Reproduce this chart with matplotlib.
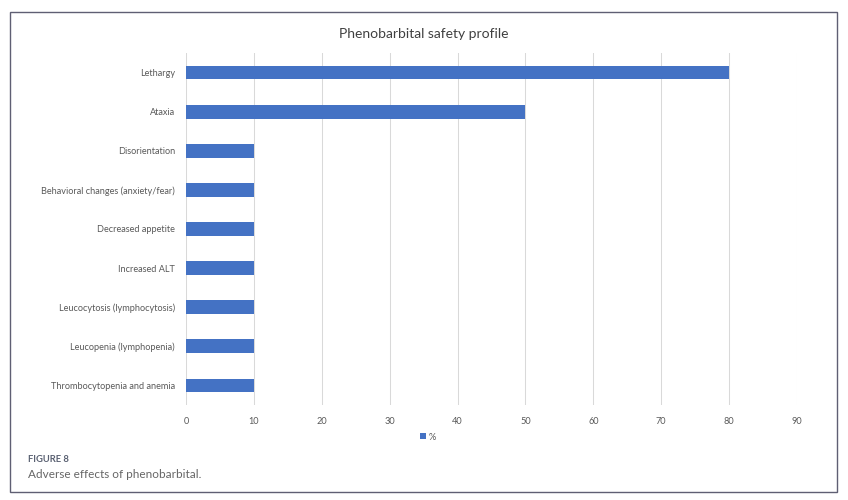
import matplotlib
matplotlib.use("Agg")
import matplotlib.pyplot as plt
from matplotlib.patches import Rectangle

categories = [
    "Lethargy",
    "Ataxia",
    "Disorientation",
    "Behavioral changes (anxiety/fear)",
    "Decreased appetite",
    "Increased ALT",
    "Leucocytosis (lymphocytosis)",
    "Leucopenia (lymphopenia)",
    "Thrombocytopenia and anemia",
]
values = [80, 50, 10, 10, 10, 10, 10, 10, 10]
xticks = [0, 10, 20, 30, 40, 50, 60, 70, 80, 90]

plt.rcParams['font.family'] = ['Lato', 'DejaVu Sans']

W, H = 848, 500
fig = plt.figure(figsize=(W / 100, H / 100), dpi=100)
fig.patch.set_facecolor('white')

# outer border
fig.patches.append(Rectangle((9.5 / W, 1 - 492 / H), (837 - 9.5) / W, (492 - 12) / H,
                             transform=fig.transFigure, fill=False,
                             edgecolor='#5f5f73', linewidth=1.0))

ax = fig.add_axes([186 / W, 1 - 405 / H, (797 - 186) / W, (405 - 53) / H])
y = list(range(len(categories)))
ax.barh(y, values, height=0.35, color='#4472C4', zorder=3, label='%')
ax.set_ylim(len(categories) - 0.5, -0.5)
ax.set_xlim(0, 90)
ax.set_xticks(xticks)
ax.set_yticks(y)
ax.set_yticklabels(categories)
ax.grid(axis='x', color='#d9d9d9', linewidth=0.75, zorder=0)
for s in ax.spines.values():
    s.set_visible(False)
ax.tick_params(axis='both', length=0, labelsize=6.6, colors='#595959')
ax.tick_params(axis='x', pad=9)
ax.tick_params(axis='y', pad=8)

fig.text(424 / W, 1 - 34 / H, "Phenobarbital safety profile", ha='center', va='center',
         fontsize=10, color='#404040')

leg = fig.legend(loc='center', bbox_to_anchor=(428 / W, 1 - 437 / H), frameon=False,
                 fontsize=6.6, handlelength=0.6, handleheight=0.6, handletextpad=0.3,
                 labelcolor='#595959')

fig.text(28 / W, 1 - 459 / H, "FIGURE 8", ha='left', va='center', fontsize=6.8,
         fontweight='bold', color='#5a6172')
fig.text(28 / W, 1 - 474 / H, "Adverse effects of phenobarbital.", ha='left', va='center',
         fontsize=8.5, color='#666666')

fig.savefig('out.png', dpi=100, facecolor='white')
